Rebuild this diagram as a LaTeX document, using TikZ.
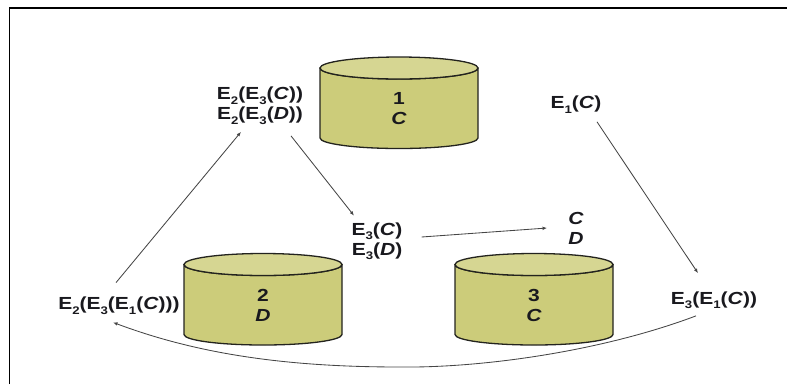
\documentclass[tikz,border=0pt]{standalone}
\usepackage{fontspec}
\setmainfont[FakeStretch=1.2]{Liberation Sans}
\usetikzlibrary{arrows.meta,calc}
\definecolor{cylside}{RGB}{204,204,122}
\definecolor{cyltop}{RGB}{214,214,146}
\definecolor{cylline}{RGB}{35,35,30}
\definecolor{linkcol}{RGB}{70,70,70}
\definecolor{inkcol}{RGB}{25,25,30}
\newcommand{\sbs}[1]{\raisebox{-0.26em}{\fontsize{11}{11}\selectfont #1}}
\newcommand{\ital}[1]{\textit{#1}}
\newcommand{\cyldisk}[4]{%
  \draw[cylbody] (#1-79,#2) -- (#1-79,#2+70)
    arc[start angle=180,end angle=0,x radius=79,y radius=10.5]
    -- (#1+79,#2) arc[start angle=0,end angle=180,x radius=79,y radius=11] -- cycle;
  \draw[cylcap] (#1,#2) ellipse[x radius=79,y radius=11];
  \node[label] (#3) at (#1,#2+40.5) {#4};
}
\tikzset{
  x=1pt,y=-1pt,
  cylbody/.style={draw=cylline,line width=1.3pt,fill=cylside,line join=round},
  cylcap/.style={draw=cylline,line width=1.3pt,fill=cyltop},
  label/.style={font=\bfseries\fontsize{17.5}{20}\selectfont,align=center,text=inkcol,inner sep=0pt},
  link/.style={draw=linkcol,line width=0.85pt,-{Latex[length=4.5pt,width=3.6pt]}},
}
\begin{document}
\begin{tikzpicture}
\useasboundingbox (0,0) rectangle (787,384);
\draw[line width=1.4pt,black] (9.5,384) -- (9.5,8) -- (787,8);
\cyldisk{399}{68}{diskA}{1\\\ital{C}}
\cyldisk{263}{264.5}{diskB}{2\\\ital{D}}
\cyldisk{534}{264.5}{diskC}{3\\\ital{C}}
\node[label] (ee) at (260,105.5) {E\sbs{2}(E\sbs{3}(\ital{C}))\\E\sbs{2}(E\sbs{3}(\ital{D}))};
\node[label] (e3) at (377,241) {E\sbs{3}(\ital{C})\\E\sbs{3}(\ital{D})};
\node[label] (cd) at (576,228) {\ital{C}\\\ital{D}};
\node[label] (e1) at (576,104.5) {E\sbs{1}(\ital{C})};
\node[label] (e31) at (714,300) {E\sbs{3}(E\sbs{1}(\ital{C}))};
\node[label] (e231) at (119,305.5) {E\sbs{2}(E\sbs{3}(E\sbs{1}(\ital{C})))};
\draw[link] ($(e231.north)+(-3,-14)$) -- ($(ee.south)+(-19,7.5)$);
\draw[link] ($(ee.south)+(31,11.5)$) -- ($(e3.north)+(-23,-6.5)$);
\draw[link] ($(e3.east)+(19,-4)$) -- ($(cd.west)+(-21,0)$);
\draw[link] ($(e1.south)+(21,8.5)$) -- ($(e31.north)+(-16,-18)$);
\draw[link] ($(e31.south)+(-18,7)$) .. controls (600,352) and (480,368) .. (400,367)
  .. controls (290,367) and (200,355) .. ($(e231.south)+(-6,8)$);
\end{tikzpicture}
\end{document}
